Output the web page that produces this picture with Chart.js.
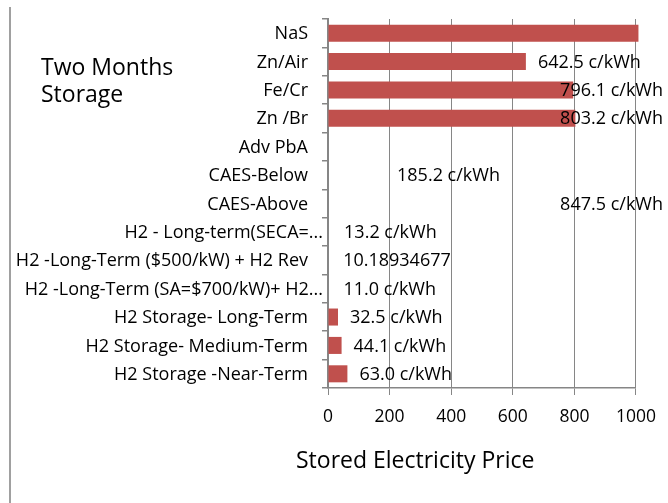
<!DOCTYPE html>
<html><head><meta charset="utf-8">
<script src="https://cdn.jsdelivr.net/npm/chart.js@4/dist/chart.umd.min.js"></script>
<style>html,body{margin:0;padding:0;background:#fff;overflow:hidden}#wrap{width:668px;height:503px;position:relative}</style>
</head><body><div id="wrap"><canvas id="c" width="668" height="503"></canvas></div>
<script>
const categories = ['NaS', 'Zn/Air', 'Fe/Cr', 'Zn /Br', 'Adv PbA', 'CAES-Below', 'CAES-Above',
  'H2 - Long-term(SECA=...', 'H2 -Long-Term ($500/kW) + H2 Rev', 'H2 -Long-Term (SA=$700/kW)+ H2...',
  'H2 Storage- Long-Term', 'H2 Storage- Medium-Term', 'H2 Storage -Near-Term'];
const prices = [1008, 642.5, 796.1, 803.2, null, 185.2, 847.5, 13.2, 10.18934677, 11.0, 32.5, 44.1, 63.0];
const priceLabels = ['', '642.5 c/kWh', '796.1 c/kWh', '803.2 c/kWh', '', '185.2 c/kWh', '847.5 c/kWh',
  '13.2 c/kWh', '10.18934677', '11.0 c/kWh', '32.5 c/kWh', '44.1 c/kWh', '63.0 c/kWh'];
const xTicks = [0, 200, 400, 600, 800, 1000];
const chartTitleLines = ['Two Months', 'Storage'];
const axisTitle = 'Stored Electricity Price';

const FONT = '"Open Sans", "Liberation Sans", sans-serif';
const unfilledBars = [5, 6, 7, 8, 9];

const drawPlugin = {
  id: 'drawExtras',
  afterDraw(chart) {
    const ctx = chart.ctx;
    const y = chart.scales.y;
    ctx.save();
    // frame line on the left
    ctx.fillStyle = '#a0a0a0';
    ctx.fillRect(9, 7, 2, 496);
    // category labels
    ctx.fillStyle = '#000';
    ctx.font = '18px ' + FONT;
    ctx.textAlign = 'right';
    ctx.textBaseline = 'middle';
    categories.forEach((c, i) => {
      const py = y.getPixelForValue(i);
      const right = c.endsWith('...') ? 323 : 308;
      ctx.fillText(c, right, py + 1);
    });
    // data labels
    const meta = chart.getDatasetMeta(0);
    ctx.font = '18px ' + FONT;
    ctx.textAlign = 'left';
    meta.data.forEach((bar, i) => {
      const t = priceLabels[i];
      if (!t) return;
      const w = ctx.measureText(t).width;
      let x = bar.x + 12;
      if (x + w > 663) x = 663 - w;
      ctx.fillText(t, x, bar.y + 1);
    });
    // chart title
    ctx.font = '23px ' + FONT;
    ctx.textBaseline = 'alphabetic';
    ctx.fillText(chartTitleLines[0], 41, 75);
    ctx.fillText(chartTitleLines[1], 41, 102);
    // axis title
    ctx.fillText(axisTitle, 296, 468);
    ctx.restore();
  }
};

new Chart(document.getElementById('c'), {
  type: 'bar',
  data: {
    labels: categories,
    datasets: [{
      data: prices,
      backgroundColor: (c) => unfilledBars.includes(c.dataIndex) ? 'rgba(0,0,0,0)' : '#C0504D',
      borderWidth: 0,
      barPercentage: 0.6,
      categoryPercentage: 1,
      clip: false
    }]
  },
  options: {
    indexAxis: 'y',
    responsive: false,
    animation: false,
    events: [],
    layout: { padding: { top: 19, right: 30, left: 0, bottom: 0 } },
    plugins: { legend: { display: false }, tooltip: { enabled: false } },
    scales: {
      x: {
        min: 0, max: 1000,
        afterBuildTicks: (s) => { s.ticks = xTicks.map(v => ({ value: v })); },
        afterFit: (s) => { s.height = 115; },
        grid: { color: '#868686', lineWidth: 1, drawTicks: true, tickLength: 7 },
        border: { color: '#868686', width: 1.5 },
        ticks: { color: '#000', padding: 12, font: { family: FONT, size: 17.5 }, callback: (v) => String(v) }
      },
      y: {
        afterFit: (s) => { s.width = 328; },
        grid: { drawOnChartArea: false, drawTicks: true, tickLength: 6, color: '#868686', lineWidth: 1.5, offset: true },
        border: { color: '#868686', width: 2 },
        ticks: { display: false }
      }
    }
  },
  plugins: [drawPlugin]
});
</script></body></html>
